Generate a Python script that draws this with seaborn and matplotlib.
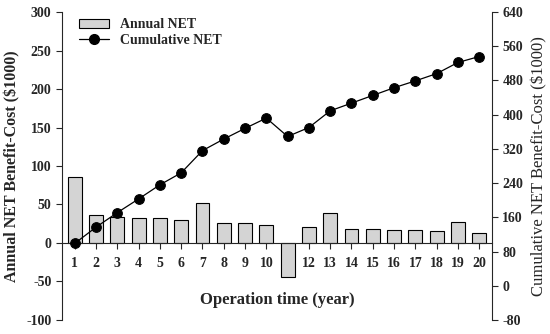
import matplotlib
matplotlib.use("Agg")
import matplotlib.pyplot as plt
import numpy as np
import seaborn as sns
from matplotlib.lines import Line2D
from matplotlib.patches import Patch

# values ($1000)
years = list(range(1, 21))
annual_net = [85.3, 36.4, 34.2, 32.5, 32.1, 29.5, 52.3, 26.4, 26.0, 23.4,
              -44.6, 20.8, 38.6, 18.6, 17.8, 16.9, 16.9, 15.2, 27.3, 13.0]
cumulative_net = [99, 137, 171, 203, 236, 264, 316, 343, 368, 392,
                  349, 370, 409, 427, 445, 463, 479, 496, 522, 536]
year_labels = [str(y) if y != 11 else "" for y in years]

sns.set_style("ticks")
plt.rcParams["font.family"] = ["Liberation Serif", "DejaVu Serif"]
plt.rcParams["font.weight"] = "bold"
plt.rcParams["axes.unicode_minus"] = False

fig = plt.figure(figsize=(5.5, 3.34), dpi=100)
ax = fig.add_axes([0.1127, 0.042, 0.7818, 0.922])

sns.barplot(x=years, y=annual_net, ax=ax, native_scale=True, width=0.65,
            color="#d4d4d4", edgecolor="black", linewidth=0.8, saturation=1)
ax.set_xlim(0.4, 20.6)
ax.set_ylim(-100, 300)
ax.set_yticks(np.arange(-100, 301, 50))
ax.set_xticks(years)
ax.set_xticklabels(year_labels, fontsize=10, fontweight="bold")
ax.tick_params(axis="y", labelsize=10, length=4, width=0.8, direction="out")
ax.tick_params(axis="x", length=4, width=0.8, direction="out", pad=6)
for t in ax.get_yticklabels():
    t.set_fontweight("bold")

ax.spines["bottom"].set_position(("data", 0))
ax.spines["top"].set_visible(False)
ax.spines["right"].set_visible(False)
for s in ["left", "bottom"]:
    ax.spines[s].set_linewidth(0.8)

ax.set_ylabel("Annual NET Benefit-Cost ($1000)", fontsize=11.5, fontweight="bold", labelpad=4)
ax.text(0.5, 0.065, "Operation time (year)", transform=ax.transAxes, ha="center",
        va="center", fontsize=12, fontweight="bold")
ax.set_xlabel("")

ax2 = ax.twinx()
sns.lineplot(x=years, y=cumulative_net, ax=ax2, color="black", linewidth=0.9,
             marker="o", markersize=7, markeredgecolor="black")
ax2.set_ylim(-80, 640)
ax2.set_yticks(np.arange(-80, 641, 80))
ax2.tick_params(axis="y", labelsize=10, length=4, width=0.8, direction="out")
for t in ax2.get_yticklabels():
    t.set_fontweight("bold")
for s in ["top", "bottom", "left"]:
    ax2.spines[s].set_visible(False)
ax2.spines["right"].set_linewidth(0.8)
ax2.set_ylabel("Cumulative NET Benefit-Cost ($1000)", fontsize=12,
               fontweight="normal", labelpad=6)

handles = [Patch(facecolor="#d4d4d4", edgecolor="black", linewidth=0.8),
           Line2D([], [], color="black", linewidth=0.9, marker="o", markersize=7)]
ax.legend(handles, ["Annual NET", "Cumulative NET"], loc="upper left",
          bbox_to_anchor=(0.01, 1.02), frameon=False,
          handlelength=2.2, labelspacing=0.2, prop={"weight": "bold", "size": 10})

fig.savefig("out.png", dpi=100)
